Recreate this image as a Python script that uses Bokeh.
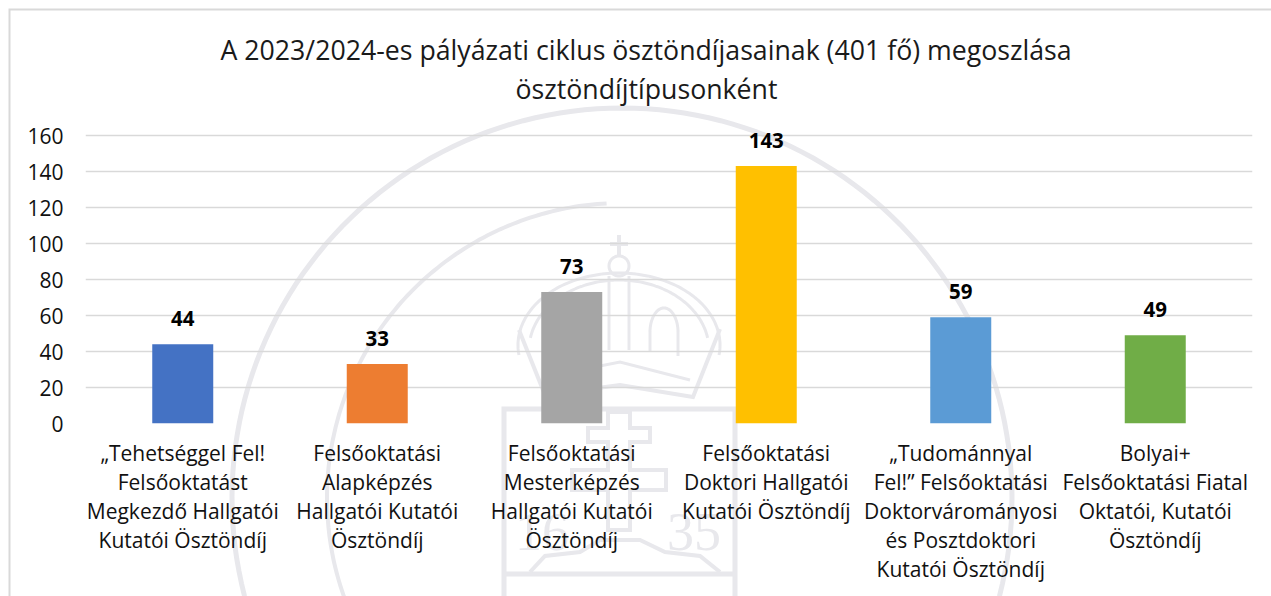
import math
from urllib.parse import quote
from bokeh.plotting import figure
from bokeh.models import ColumnDataSource, FixedTicker, Range1d, FactorRange, Title, InlineStyleSheet
from bokeh.core.properties import value
from bokeh.embed import file_html
from bokeh.resources import INLINE

title_lines = ["A 2023/2024-es pályázati ciklus ösztöndíjasainak (401 fő) megoszlása",
               "ösztöndíjtípusonként"]
categories = [
    "„Tehetséggel Fel!\nFelsőoktatást\nMegkezdő Hallgatói\nKutatói Ösztöndíj",
    "Felsőoktatási\nAlapképzés\nHallgatói Kutatói\nÖsztöndíj",
    "Felsőoktatási\nMesterképzés\nHallgatói Kutatói\nÖsztöndíj",
    "Felsőoktatási\nDoktori Hallgatói\nKutatói Ösztöndíj",
    "„Tudománnyal\nFel!” Felsőoktatási\nDoktorvárományosi\nés Posztdoktori\nKutatói Ösztöndíj",
    "Bolyai+\nFelsőoktatási Fiatal\nOktatói, Kutatói\nÖsztöndíj",
]
values = [44, 33, 73, 143, 59, 49]
colors = ["#4472C4", "#ED7D31", "#A5A5A5", "#FFC000", "#5B9BD5", "#70AD47"]
y_ticks = [0, 20, 40, 60, 80, 100, 120, 140, 160]

FONT = "Open Sans"
GRID = "#d9d9d9"
MARK = "#e8e8ec"

# ---- watermark and chart-area border: a background picture behind the figure ----
def poly(points, w=3, color=MARK, close=False):
    d = "M" + " L".join(f"{x} {y}" for x, y in points) + (" Z" if close else "")
    return f'<path d="{d}" fill="none" stroke="{color}" stroke-width="{w}"/>'

def arc(cx, cy, rx, ry, a0, a1, w=3):
    pts = []
    for i in range(121):
        t = math.radians(a0 + (a1 - a0) * i / 120)
        pts.append((round(cx + rx * math.cos(t), 1), round(cy - ry * math.sin(t), 1)))
    return poly(pts, w)

mark = [
    arc(622, 498, 390, 390, 200, -20, 5),            # outer ring
    arc(622, 498, 295, 295, 200, 93, 4),             # inner ring, left part
    # crown
    poly([(519, 330), (545, 395), (620, 385), (693, 397), (720, 329)], 4),
    arc(619, 345, 101, 72, 188, -8, 3),
    arc(619, 350, 90, 70, 170, 10, 3),
    poly([(549, 376), (620, 362), (690, 380)], 3),
    arc(619, 266, 10, 10, 0, 360, 3),
    poly([(619, 235), (619, 256)], 4),
    poly([(610, 244), (628, 244)], 4),
    poly([(609, 276), (609, 350)], 3),
    poly([(629, 276), (629, 350)], 3),
    arc(664, 332, 14, 24, 180, 0, 3), poly([(650, 332), (650, 352)], 3), poly([(678, 332), (678, 356)], 3),
    arc(574, 332, 14, 24, 180, 0, 3), poly([(560, 332), (560, 356)], 3), poly([(588, 332), (588, 352)], 3),
    # shield
    poly([(504, 600), (504, 409), (735, 409), (735, 600)], 5),
    poly([(504, 574), (735, 574)], 5),
    # double cross
    poly([(608, 412), (630, 412), (630, 428), (650, 428), (650, 442), (630, 442), (630, 470), (666, 470),
          (666, 490), (630, 490), (630, 530), (608, 530), (608, 490), (572, 490), (572, 470), (608, 470),
          (608, 442), (588, 442), (588, 428), (608, 428)], 4, close=True),
    # hills
    poly([(530, 572), (545, 556), (580, 552), (600, 540), (640, 540), (665, 552), (700, 556), (720, 572)], 4),
    f'<text x="515" y="550" font-family="Liberation Serif" font-size="54" fill="{MARK}">16</text>',
    f'<text x="667" y="550" font-family="Liberation Serif" font-size="54" fill="{MARK}">35</text>',
    # chart-area border
    poly([(9.5, 596), (9.5, 9.5), (1271, 9.5)], 2, GRID),
]
svg = ('<svg xmlns="http://www.w3.org/2000/svg" width="1271" height="596" viewBox="0 0 1271 596">'
       + "".join(mark) + "</svg>")
background = InlineStyleSheet(css=f""":host {{
  background-image: url("data:image/svg+xml,{quote(svg)}");
  background-repeat: no-repeat;
}}""")

# ---- chart ----
p = figure(
    width=1271, height=596, output_backend="svg", toolbar_location=None,
    x_range=FactorRange(factors=categories, range_padding=0, factor_padding=0),
    y_range=Range1d(0, 170),
    min_border_left=85, min_border_right=19, min_border_top=117, min_border_bottom=173,
    outline_line_color=None, background_fill_color=None, border_fill_color=None,
    stylesheets=[background],
)
p.title = None

source = ColumnDataSource(dict(cat=categories, val=values, col=colors,
                               lab=[str(v) for v in values]))
p.vbar(x="cat", top="val", bottom=0, width=0.3136, fill_color="col", line_color=None, source=source)
p.text(x="cat", y="val", text="lab", source=source, text_align="center", text_baseline="alphabetic",
       y_offset=-26, text_font=value(FONT), text_font_style="bold", text_font_size="20.5px", text_color="#000000")

# small invisible spacer between the frame and the two title lines
p.add_layout(Title(text=" ", standoff=8, text_font_size="1px"), "above")
for line, off in ((title_lines[1], 430), (title_lines[0], 135)):
    p.add_layout(Title(text=line, align="left", offset=off, standoff=0,
                       text_font=FONT, text_font_size="26.7px", text_font_style="normal",
                       text_color="#1a1a1a"), "above")

p.xgrid.visible = False
p.ygrid.ticker = FixedTicker(ticks=y_ticks)
p.ygrid.grid_line_color = GRID
p.ygrid.grid_line_width = 1.5

p.yaxis.ticker = FixedTicker(ticks=y_ticks)
for ax in (p.xaxis[0], p.yaxis[0]):
    ax.axis_line_color = None
    ax.major_tick_line_color = None
    ax.minor_tick_line_color = None
    ax.major_tick_out = 0
    ax.major_label_text_font = FONT
    ax.major_label_text_font_size = "21px"
    ax.major_label_text_color = "#111111"
p.yaxis.major_label_standoff = 22
p.xaxis.major_label_standoff = 15
p.xaxis.major_label_orientation = "horizontal"
p.xaxis.major_label_text_line_height = 1.04

open("out.html", "w").write(file_html(p, INLINE))
